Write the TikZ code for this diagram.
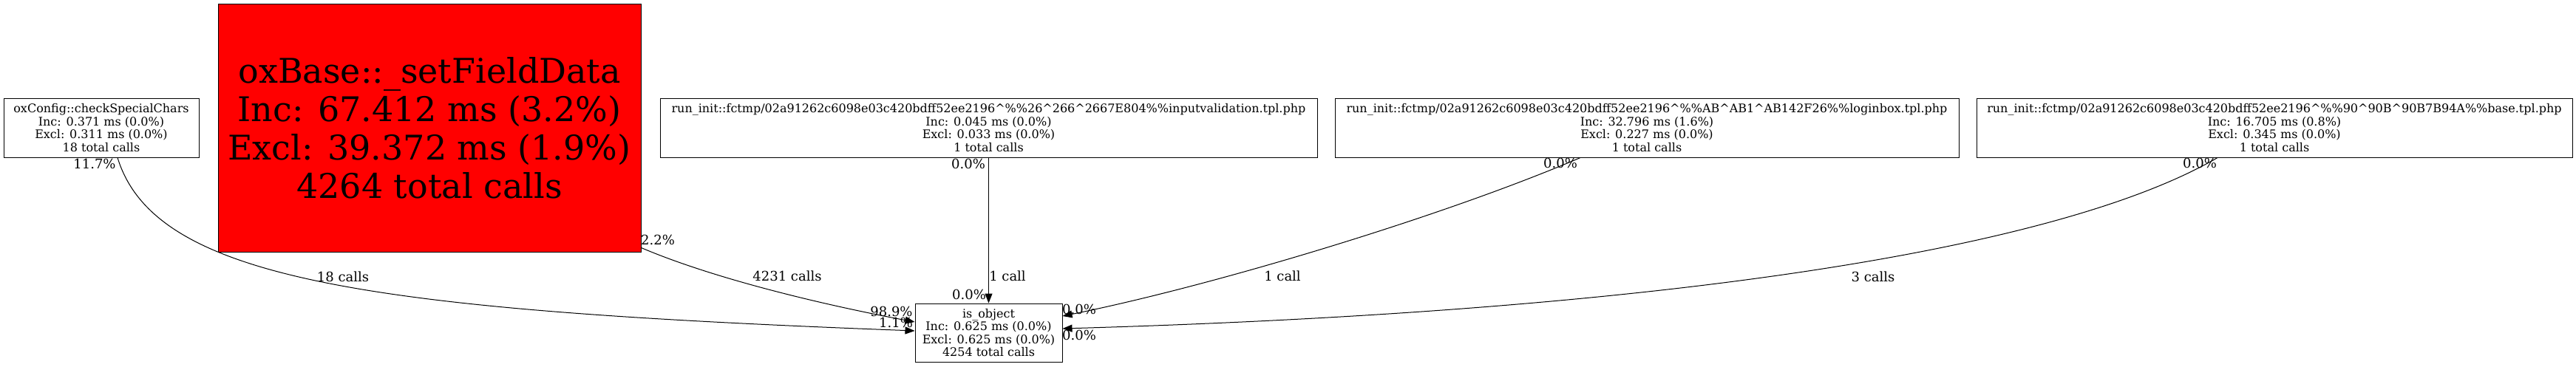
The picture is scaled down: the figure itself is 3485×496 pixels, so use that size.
\documentclass[tikz,border=0pt]{standalone}
\usepackage{fontspec}
\setmainfont{DejaVu Serif}
\usetikzlibrary{arrows.meta}
\begin{document}
\begin{tikzpicture}[x=1pt,y=-1pt,
  fn/.style={draw=black, line width=1pt, inner sep=0pt, align=center, font=\fontsize{16}{17.5}\selectfont},
  bigfn/.style={fn, fill=red, font=\fontsize{46}{52}\selectfont},
  pct/.style={inner sep=0pt, font=\fontsize{18}{18}\selectfont},
  conn/.style={draw=black, line width=1pt, -{Triangle[length=13pt,width=10pt]}}
]
\useasboundingbox (0,0) rectangle (3485,496);

\node[fn, minimum width=264pt, minimum height=80pt] (ox) at (137,173)
  {oxConfig::checkSpecialChars\\Inc: 0.371 ms (0.0\%)\\Excl: 0.311 ms (0.0\%)\\18 total calls};
\node[bigfn, minimum width=572pt, minimum height=336pt] (red) at (581,173)
  {oxBase::\_setFieldData\\Inc: 67.412 ms (3.2\%)\\Excl: 39.372 ms (1.9\%)\\4264 total calls};
\node[fn, minimum width=889pt, minimum height=80pt] (inp) at (1337.5,173)
  {run\_init::fctmp/02a91262c6098e03c420bdff52ee2196\textasciicircum\%\%26\textasciicircum266\textasciicircum2667E804\%\%inputvalidation.tpl.php\\Inc: 0.045 ms (0.0\%)\\Excl: 0.033 ms (0.0\%)\\1 total calls};
\node[fn, minimum width=844pt, minimum height=80pt] (login) at (2228,173)
  {run\_init::fctmp/02a91262c6098e03c420bdff52ee2196\textasciicircum\%\%AB\textasciicircum AB1\textasciicircum AB142F26\%\%loginbox.tpl.php\\Inc: 32.796 ms (1.6\%)\\Excl: 0.227 ms (0.0\%)\\1 total calls};
\node[fn, minimum width=806pt, minimum height=80pt] (base) at (3077,173)
  {run\_init::fctmp/02a91262c6098e03c420bdff52ee2196\textasciicircum\%\%90\textasciicircum90B\textasciicircum90B7B94A\%\%base.tpl.php\\Inc: 16.705 ms (0.8\%)\\Excl: 0.345 ms (0.0\%)\\1 total calls};
\node[fn, minimum width=199pt, minimum height=79pt] (iso) at (1337.5,450.5)
  {is\_object\\Inc: 0.625 ms (0.0\%)\\Excl: 0.625 ms (0.0\%)\\4254 total calls};

% connectors
\draw[conn] ([xshift=22pt]ox.south) .. controls (210,380) and (500,420) .. ([yshift=2.5pt]iso.west);
\draw[conn] ([yshift=6pt]red.south east) .. controls (960,375) and (1100,410) .. ([yshift=14.5pt]iso.west);
\draw[conn] (inp.south) -- (iso.north);
\draw[conn] ([xshift=-90pt]login.south) .. controls (1960,290) and (1650,385) .. ([yshift=22.5pt]iso.east);
\draw[conn] ([xshift=-77pt]base.south) .. controls (2800,330) and (2300,420) .. ([yshift=5.5pt]iso.east);

% labels
\node[pct] (l1) at (128,222) {11.7\%};
\node[pct] (l2) at (464,375) {18 calls};
\node[pct] (l3) at (1212,437) {1.1\%};
\node[pct] (l4) at (890,325) {2.2\%};
\node[pct] (l5) at (1065,374) {4231 calls};
\node[pct] (l6) at (1206,422) {98.9\%};
\node[pct] (l7) at (1310,222) {0.0\%};
\node[pct] (l8) at (1363,374) {1 call};
\node[pct] (l9) at (1311,399) {0.0\%};
\node[pct] (l10) at (2111,221) {0.0\%};
\node[pct] (l11) at (1735,374) {1 call};
\node[pct] (l12) at (1460,419) {0.0\%};
\node[pct] (l13) at (2976,221) {0.0\%};
\node[pct] (l14) at (2534,375) {3 calls};
\node[pct] (l15) at (1460,454) {0.0\%};
\end{tikzpicture}
\end{document}
